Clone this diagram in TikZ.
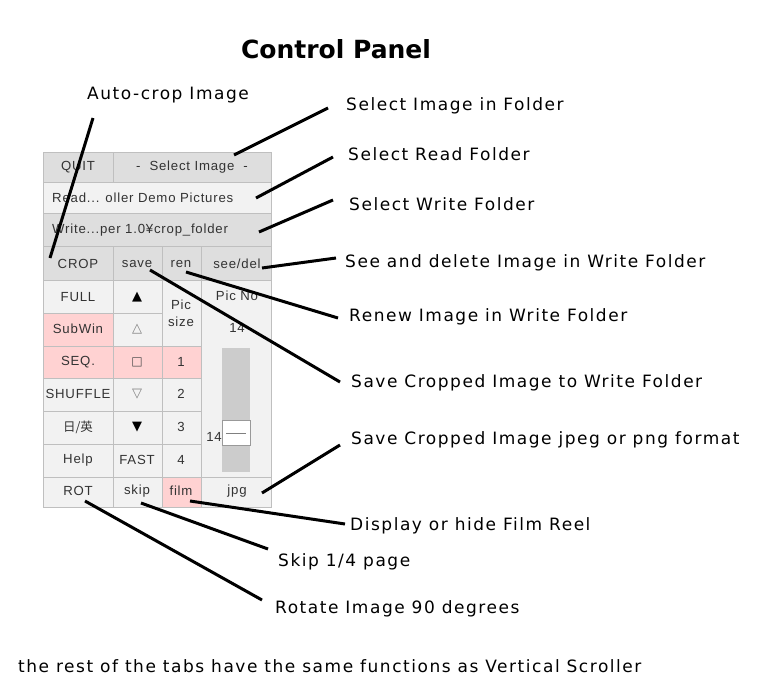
\documentclass[tikz,border=0pt]{standalone}
\usepackage{fontspec}
\setmainfont{DejaVu Sans}
\newfontfamily\panelfont{Liberation Sans}[LetterSpace=6]
\newfontfamily\lblfont{DejaVu Sans}[LetterSpace=9]
\newfontfamily\cjk{Noto Sans CJK JP}
\begin{document}
\begin{tikzpicture}[x=1pt,y=-1pt,
  cell/.style={draw=black!25,line width=0.6pt,fill=#1},
  cell/.default={black!6},
  ptxt/.style={font=\panelfont\fontsize{13.2}{14}\selectfont,text=black!80,inner sep=0pt},
  lbl/.style={font=\lblfont\fontsize{17}{19}\selectfont,anchor=west,inner sep=0pt},
  ptr/.style={line width=3pt,black}]
\useasboundingbox (0,0) rectangle (766,688);
\fill[white] (0,0) rectangle (766,688);
\node[font=\bfseries\fontsize{25}{27}\selectfont] (title) at (336,49) {Control Panel};
\def\g{black!13}\def\w{black!5}\def\p{pink!70}
\foreach \a/\b/\c/\d/\f in {43/152/113/182/\g, 113/152/271/182/\g, 43/182/271/213/\w, 43/213/271/246/\g,
  43/246/113/280/\g,113/246/162/280/\g,162/246/201/280/\g,201/246/271/280/\g,
  43/280/113/313/\w,43/313/113/346/\p,43/346/113/378/\p,43/378/113/411/\w,43/411/113/444/\w,43/444/113/477/\w,43/477/113/507/\w,
  113/280/162/313/\w,113/313/162/346/\w,113/346/162/378/\p,113/378/162/411/\w,113/411/162/444/\w,113/444/162/477/\w,113/477/162/507/\w,
  162/280/201/346/\w,162/346/201/378/\p,162/378/201/411/\w,162/411/201/444/\w,162/444/201/477/\w,162/477/201/507/\p,
  201/280/271/477/\w,201/477/271/507/\w}
  \draw[cell=\f] (\a,\b) rectangle (\c,\d);
\fill[black!20] (222,348) rectangle (250,472);
\fill[white,draw=black!40] (222,420) rectangle (250,445);
\draw[black!50] (226,433) -- (246,433);
\node[ptxt] (quit) at (78,167) {QUIT};
\node[ptxt] (sel) at (192,167) {-\ \ Select Image\ \ -};
\node[ptxt,anchor=west] (read) at (52,198) {Read... oller Demo Pictures};
\node[ptxt,anchor=west] (write) at (52,230) {Write...per 1.0¥crop\_folder};
\node[ptxt] (crop) at (78,264) {CROP};
\node[ptxt] (save) at (137,264) {save};
\node[ptxt] (ren) at (181,264) {ren};
\node[ptxt] (see) at (237,264) {see/del};
\node[ptxt] (full) at (78,297) {FULL};
\node[ptxt] (subwin) at (78,329) {SubWin};
\node[ptxt] (seq) at (78,362) {SEQ.};
\node[ptxt] (shuffle) at (78,394) {SHUFFLE};
\node[ptxt,font=\cjk\fontsize{12.5}{13}\selectfont] (lang) at (78,427) {日/英};
\node[ptxt] (help) at (78,460) {Help};
\node[ptxt] (rot) at (78,491) {ROT};
\node[font=\fontsize{13}{13}\selectfont,inner sep=0pt] (up) at (137,297) {▲};
\node[font=\fontsize{13}{13}\selectfont,inner sep=0pt,text=black!50] (upw) at (137,329) {△};
\node[font=\fontsize{12}{13}\selectfont,inner sep=0pt,text=black!70] (sq) at (137,362) {□};
\node[font=\fontsize{13}{13}\selectfont,inner sep=0pt,text=black!50] (dnw) at (137,394) {▽};
\node[font=\fontsize{13}{13}\selectfont,inner sep=0pt] (dn) at (137,427) {▼};
\node[ptxt] (fast) at (137,460) {FAST};
\node[ptxt] (skip) at (137,491) {skip};
\node[ptxt,align=center] (pic) at (181,313) {Pic\\[3pt]size};
\node[ptxt] (n1) at (181,362) {1};
\node[ptxt] (n2) at (181,394) {2};
\node[ptxt] (n3) at (181,427) {3};
\node[ptxt] (n4) at (181,460) {4};
\node[ptxt] (film) at (181,491) {film};
\node[ptxt] (picno) at (237,296) {Pic No};
\node[ptxt] (n14a) at (237,328) {14};
\node[ptxt] (n14b) at (214,437) {14};
\node[ptxt] (jpg) at (237,491) {jpg};
\node[lbl] (l1) at (87,95) {Auto-crop Image};
\node[lbl] (l2) at (346,106) {Select Image in Folder};
\node[lbl] (l3) at (348,154) {Select Read Folder};
\node[lbl] (l4) at (349,204) {Select Write Folder};
\node[lbl] (l5) at (345,263) {See and delete Image in Write Folder};
\node[lbl] (l6) at (349,317) {Renew Image in Write Folder};
\node[lbl] (l7) at (351,383) {Save Cropped Image to Write Folder};
\node[lbl] (l8) at (351,440) {Save Cropped Image jpeg or png format};
\node[lbl] (l9) at (350,526) {Display or hide Film Reel};
\node[lbl] (l10) at (278,562) {Skip 1/4 page};
\node[lbl] (l11) at (275,609) {Rotate Image 90 degrees};
\node[lbl] (l12) at (18,666) {the rest of the tabs have the same functions as Vertical Scroller};
\coordinate (a1) at (93,118); \coordinate (b1) at (50,258);
\coordinate (a2) at (328,108); \coordinate (b2) at (234,155);
\coordinate (a3) at (333,157); \coordinate (b3) at (256,198);
\coordinate (a4) at (333,200); \coordinate (b4) at (259,232);
\coordinate (a5) at (336,258); \coordinate (b5) at (262,268);
\coordinate (a6) at (338,318); \coordinate (b6) at (186,272);
\coordinate (a7) at (340,382); \coordinate (b7) at (150,270);
\coordinate (a8) at (340,445); \coordinate (b8) at (262,493);
\coordinate (a9) at (345,524); \coordinate (b9) at (190,501);
\coordinate (a10) at (268,549); \coordinate (b10) at (141,503);
\coordinate (a11) at (262,600); \coordinate (b11) at (85,501);
\foreach \i in {1,...,11} \draw[ptr] (a\i) -- (b\i);
\end{tikzpicture}
\end{document}
